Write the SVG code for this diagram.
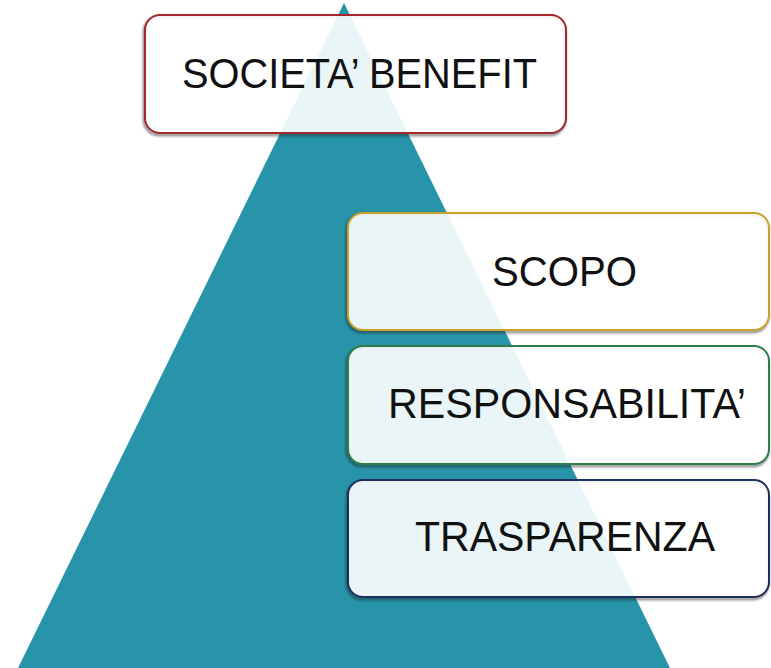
<svg xmlns="http://www.w3.org/2000/svg" width="771" height="668" viewBox="0 0 771 668">
<defs>
<filter id="bl" x="-5%" y="-10%" width="110%" height="125%">
<feGaussianBlur stdDeviation="0.8"/>
</filter>
</defs>
<style>
.box{fill:#fff;fill-opacity:0.9;stroke-width:2}
.shd{fill:none;stroke:#222;stroke-opacity:0.55;stroke-width:2.5;filter:url(#bl)}
.lbl{font-family:"Liberation Sans",Arial,sans-serif;font-size:42px;fill:#111;text-anchor:middle}
</style>
<rect width="771" height="668" fill="#fff"/>
<g id="pyramid">
<polygon points="344,3 18,668 670,668" fill="#2794aa"/>
</g>
<g id="connectors"></g>
<g id="societa">
<rect class="shd" x="144" y="17" width="421" height="118" rx="15"/>
<rect class="box" x="145" y="15" width="421" height="118" rx="15" stroke="#a3262b"/>
<text class="lbl" x="359.5" y="88" textLength="355" lengthAdjust="spacingAndGlyphs">SOCIETA’ BENEFIT</text>
</g>
<g id="scopo">
<rect class="shd" x="347" y="215" width="421" height="117" rx="15"/>
<rect class="box" x="348" y="213" width="421" height="117" rx="15" stroke="#c9a227"/>
<text class="lbl" x="564.5" y="286" textLength="145" lengthAdjust="spacingAndGlyphs">SCOPO</text>
</g>
<g id="responsabilita">
<rect class="shd" x="347" y="348" width="421" height="118" rx="15"/>
<rect class="box" x="348" y="346" width="421" height="118" rx="15" stroke="#2f7d4a"/>
<text class="lbl" x="567" y="418" textLength="358" lengthAdjust="spacingAndGlyphs">RESPONSABILITA’</text>
</g>
<g id="trasparenza">
<rect class="shd" x="347" y="482" width="421" height="117" rx="15"/>
<rect class="box" x="348" y="480" width="421" height="117" rx="15" stroke="#1d2f5c"/>
<text class="lbl" x="565" y="551" textLength="300" lengthAdjust="spacingAndGlyphs">TRASPARENZA</text>
</g>
</svg>
